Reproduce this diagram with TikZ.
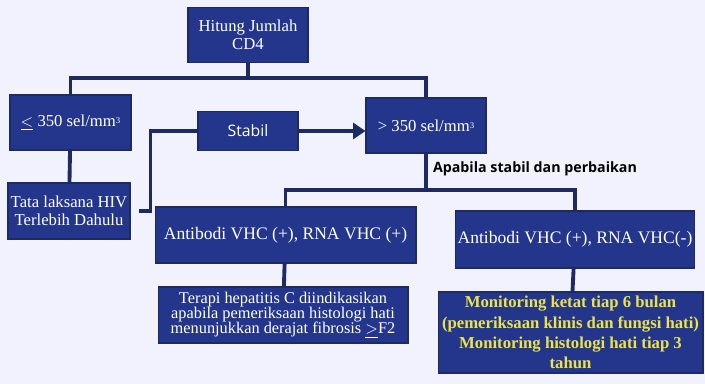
\documentclass[tikz,border=0pt]{standalone}
\usepackage{fontspec}
\setmainfont{Liberation Serif}
\setsansfont{Open Sans}
\usetikzlibrary{arrows.meta}
\definecolor{boxblue}{RGB}{36,54,140}
\definecolor{lineblue}{RGB}{30,42,100}
\definecolor{textyellow}{RGB}{236,228,70}

\begin{document}
\begin{tikzpicture}[x=0.02cm, y=-0.02cm, line width=2.2pt, draw=lineblue,
    box/.style = {draw=lineblue, line width=0.6pt, fill=boxblue, text=white, align=center, inner sep=1pt, font=\fontsize{9.5}{10.5}\selectfont},
    link/.style = {draw=lineblue, line width=2.2pt}]
    \fill[white!95!blue] (0,0) rectangle (705,384);
    \useasboundingbox (0,0) rectangle (705,384);

    \node[box, minimum width=2.4cm, minimum height=1.1cm] (hitung) at (248,35) {Hitung Jumlah\\CD4};
    \node[box, minimum width=2.42cm, minimum height=1.1cm] (rendah) at (70.5,122.5) {$\underline{<}$ 350 sel/mm{\tiny\raisebox{0.6ex}{3}}};
    \node[box, minimum width=2.44cm, minimum height=1.12cm] (tata) at (69,211) {Tata laksana HIV\\Terlebih Dahulu};
    \node[box, minimum width=2.0cm, minimum height=0.78cm, font=\sffamily\fontsize{9}{10}\selectfont] (stabil) at (248,131) {Stabil};
    \node[box, minimum width=2.4cm, minimum height=1.1cm] (tinggi) at (426,125.5) {> 350 sel/mm{\tiny\raisebox{0.6ex}{3}}};
    \node[font=\sffamily\bfseries\fontsize{8.1}{10}\selectfont] (apabila) at (535,169) {Apabila stabil dan perbaikan};
    \node[box, minimum width=5.22cm, minimum height=1.12cm, font=\fontsize{10}{11}\selectfont] (vhcpos) at (285.5,235) {Antibodi VHC (+), RNA VHC (+)};
    \node[box, minimum width=4.64cm, minimum height=1.14cm, font=\fontsize{10}{11}\selectfont] (vhcneg) at (575,239.5) {Antibodi VHC (+), RNA VHC(-)};
    \node[box, minimum width=5.0cm, minimum height=1.12cm, font=\fontsize{9.3}{8.6}\selectfont] (terapi) at (283,315) {Terapi hepatitis C diindikasikan\\apabila pemeriksaan histologi hati\\menunjukkan derajat fibrosis $\underline{>}$F2};
    \node[box, minimum width=5.3cm, minimum height=1.62cm, text=textyellow, font=\bfseries\fontsize{9.5}{11.5}\selectfont] (monitor) at (570.5,332.5) {Monitoring ketat tiap 6 bulan\\(pemeriksaan klinis dan fungsi hati)\\Monitoring histologi hati tiap 3\\tahun};

    \coordinate (j1) at (248,78);
    \coordinate (j2) at (426,190);

\draw[link] (hitung) -- (j1);
\draw[link] (j1) -| (rendah);
\draw[link] (j1) -| (tinggi);
\draw[link] (rendah) -- (tata);
\draw[link, shorten <=5pt] (tata.east) -- ++(20,0) |- (stabil.west);
\draw[link, -{Triangle[length=7pt, width=9pt]}] (stabil.east) -- (stabil.east -| tinggi.west);
\draw[link] (tinggi) -- (j2);
\draw[link] (j2) -| (vhcpos);
\draw[link] (j2) -| (vhcneg);
\draw[link] (vhcpos) -- (terapi);
\draw[link] (vhcneg) -- (monitor);

\end{tikzpicture}
\end{document}
